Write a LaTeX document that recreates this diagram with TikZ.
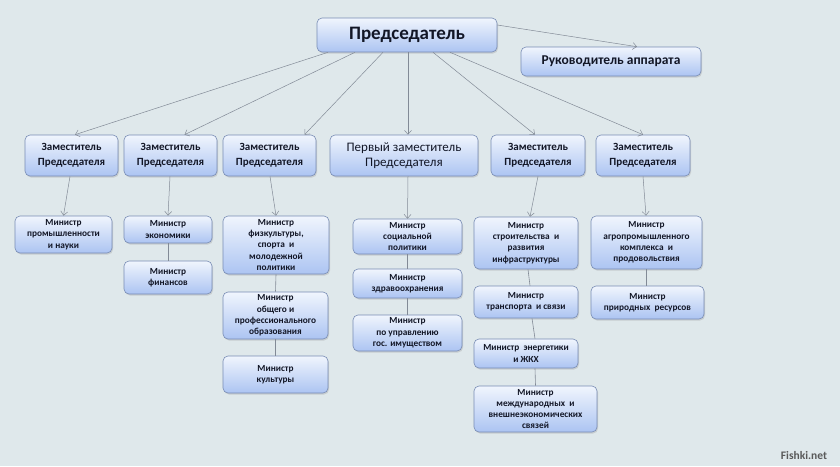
\documentclass[tikz,border=0pt]{standalone}
\usepackage{fontspec}
\setmainfont{Carlito}
\usetikzlibrary{arrows.meta,shadows}
\definecolor{bg}{RGB}{223,232,235}
\definecolor{boxline}{RGB}{120,140,180}
\definecolor{boxtop}{RGB}{240,245,253}
\definecolor{boxbot}{RGB}{172,196,242}
\definecolor{textc}{RGB}{18,22,38}
\definecolor{linec}{RGB}{130,138,150}
\begin{document}
\begin{tikzpicture}[x=1pt,y=-1pt,
  box/.style={rounded corners=5pt, draw=boxline, line width=0.6pt,
    top color=boxtop, bottom color=boxbot, inner sep=1pt, align=center,
    text=textc, font=\bfseries\fontsize{9.3}{11.3}\selectfont,
    drop shadow={shadow xshift=1pt, shadow yshift=-1.5pt, opacity=0.25}},
  dep/.style={box, font=\bfseries\fontsize{11}{14.5}\selectfont},
  conn/.style={draw=linec, line width=0.5pt, -{Straight Barb[length=4pt,width=7pt]}},
  link/.style={draw=linec, line width=0.6pt}]
\fill[bg] (0,0) rectangle (840,466);
\useasboundingbox (0,0) rectangle (840,466);

% top level
\node[box, font=\bfseries\fontsize{19}{22}\selectfont, minimum width=180pt, minimum height=34pt] (chair) at (407,35) {Председатель};
\node[box, font=\bfseries\fontsize{13.5}{15}\selectfont, minimum width=180pt, minimum height=29pt] (ruk) at (611,61.5) {Руководитель аппарата};

% deputies
\node[dep, minimum width=93pt, minimum height=41pt] (d1) at (71.5,155.5) {Заместитель\\Председателя};
\node[dep, minimum width=93pt, minimum height=41pt] (d2) at (170.5,155.5) {Заместитель\\Председателя};
\node[dep, minimum width=93pt, minimum height=41pt] (d3) at (269.5,155.5) {Заместитель\\Председателя};
\node[box, font=\fontsize{13}{15.5}\selectfont, minimum width=148pt, minimum height=41pt] (first) at (404,155.5) {Первый заместитель\\Председателя};
\node[dep, minimum width=94pt, minimum height=41pt] (d5) at (538,155.5) {Заместитель\\Председателя};
\node[dep, minimum width=94pt, minimum height=41pt] (d6) at (643,155.5) {Заместитель\\Председателя};

% ministers
\node[box, minimum width=97pt, minimum height=37pt] (m11) at (63.5,234.5) {Министр\\промышленности\\и науки};
\node[box, minimum width=88pt, minimum height=27pt] (m21) at (168,229.5) {Министр\\экономики};
\node[box, minimum width=88pt, minimum height=33pt] (m22) at (168,277.5) {Министр\\финансов};
\node[box, minimum width=106pt, minimum height=58pt] (m31) at (276,245) {Министр\\физкультуры,\\спорта\ \ и\\молодежной\\политики};
\node[box, minimum width=105pt, minimum height=47pt] (m32) at (275.5,315.5) {Министр\\общего и\\профессионального\\образования};
\node[box, minimum width=105pt, minimum height=37pt] (m33) at (275.5,374.5) {Министр\\культуры};
\node[box, minimum width=109pt, minimum height=35pt] (m41) at (407.5,236.5) {Министр\\социальной\\политики};
\node[box, minimum width=109pt, minimum height=29pt] (m42) at (407.5,283.5) {Министр\\здравоохранения};
\node[box, minimum width=109pt, minimum height=36pt] (m43) at (407.5,333) {Министр\\по управлению\\гос. имуществом};
\node[box, minimum width=104pt, minimum height=52pt] (m51) at (526,243) {Министр\\строительства\ \ и\\развития\\инфраструктуры};
\node[box, minimum width=104pt, minimum height=32pt] (m52) at (526,302) {Министр\\транспорта\ \ и связи};
\node[box, minimum width=104pt, minimum height=29pt] (m53) at (526,353.5) {Министр\ \ энергетики\\и ЖКХ};
\node[box, minimum width=123pt, minimum height=46pt] (m54) at (535.5,409) {Министр\\международных\ \ и\\внешнеэкономических\\связей};
\node[box, minimum width=111pt, minimum height=53pt] (m61) at (646.5,242.5) {Министр\\агропромышленного\\комплекса\ \ и\\продовольствия};
\node[box, minimum width=113pt, minimum height=33pt] (m62) at (647.5,302.5) {Министр\\природных\ \ ресурсов};

% chair -> deputies
\draw[conn] ([xshift=-79pt]chair.south) -- ([xshift=3.5pt]d1.north);
\draw[conn] ([xshift=-52pt]chair.south) -- ([xshift=14pt]d2.north);
\draw[conn] ([xshift=-24pt]chair.south) -- ([xshift=35pt]d3.north);
\draw[conn] ([xshift=1pt]chair.south) -- ([xshift=4pt]first.north);
\draw[conn] ([xshift=26pt]chair.south) -- ([xshift=-3pt]d5.north);
\draw[conn] ([xshift=43pt]chair.south) -- (d6.north);
\draw[conn] ([yshift=10pt]chair.east) -- ([xshift=26pt]ruk.north);

% deputies -> ministers
\draw[conn] ([xshift=-1.5pt]d1.south) -- (m11.north);
\draw[conn] ([xshift=-0.5pt]d2.south) -- (m21.north);
\draw[conn] ([xshift=0.5pt]d3.south) -- (m31.north);
\draw[conn] ([xshift=4pt]first.south) -- (m41.north);
\draw[conn] (d5.south) -- ([xshift=4pt]m51.north);
\draw[conn] (d6.south) -- ([xshift=-0.5pt]m61.north);

% ministers chains
\draw[link] (m21.south) -- (m22.north);
\draw[link] (m31.south) -- (m32.north);
\draw[link] (m32.south) -- (m33.north);
\draw[link] (m41.south) -- (m42.north);
\draw[link] (m42.south) -- (m43.north);
\draw[link] ([xshift=2pt]m51.south) -- ([xshift=4pt]m52.north);
\draw[link] ([xshift=6pt]m52.south) -- ([xshift=9pt]m53.north);
\draw[link] ([xshift=9pt]m53.south) -- (m54.north);
\draw[link] (m61.south) -- ([xshift=-1pt]m62.north);

% watermark
\node[font=\bfseries\fontsize{11.5}{12}\selectfont, text=black!65, inner sep=0pt] (wm) at (804,455) {Fishki.net};
\end{tikzpicture}
\end{document}
